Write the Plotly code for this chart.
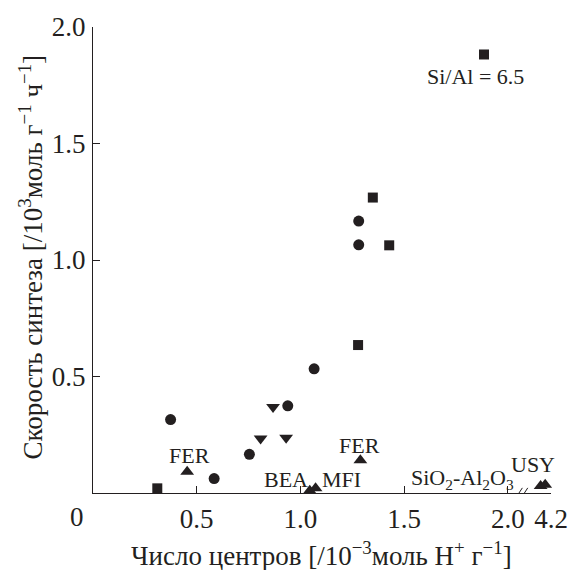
import plotly.graph_objects as go

# ---- data (x: acid sites, 10^-3 mol H+ g^-1; y: synthesis rate, 10^3 mol g^-1 h^-1)
sq_x = [0.31, 1.278, 1.349, 1.428, 1.885]
sq_y = [0.02, 0.635, 1.268, 1.063, 1.882]

ci_x = [0.374, 0.584, 0.754, 0.939, 1.066, 1.281, 1.281]
ci_y = [0.315, 0.062, 0.166, 0.374, 0.533, 1.065, 1.167]

td_x = [0.808, 0.868, 0.931]
td_y = [0.234, 0.369, 0.237]

tu_x = [0.454, 1.045, 1.073, 1.289, 4.15, 4.172]
tu_y = [0.091, 0.010, 0.020, 0.141, 0.030, 0.035]

x_tick_vals = [0.5, 1.0, 1.5, 2.0, 4.2]
x_tick_text = ["0.5", "1.0", "1.5", "2.0", "4.2"]
y_tick_vals = [0.5, 1.0, 1.5, 2.0]
y_tick_text = ["0.5", "1.0", "1.5", "2.0"]

BREAK_LO = 2.0
BREAK_SHIFT = 4.2 - 2.208  # values beyond the axis break are shifted left


def pos(x):
    return x if x <= BREAK_LO else x - BREAK_SHIFT


INK = "#231f20"
FONT = "Liberation Serif, Times New Roman, Times, serif"
BIG = 27

fig = go.Figure()


def add(xs, ys, symbol, size):
    fig.add_trace(go.Scatter(
        x=[pos(v) for v in xs], y=ys, mode="markers",
        marker=dict(symbol=symbol, size=size, color=INK, line=dict(width=0)),
        cliponaxis=False, showlegend=False, hoverinfo="skip"))


add(sq_x, sq_y, "square", 10)
add(ci_x, ci_y, "circle", 11)
add(td_x, td_y, "triangle-down", 12)
add(tu_x, tu_y, "triangle-up", 12)

ann_font = dict(family=FONT, size=22, color=INK)
labels = [
    ("Si/Al = 6.5", 1.843, 1.786),
    ("FER", 0.465, 0.162),
    ("FER", 1.285, 0.205),
    ("BEA", 0.93, 0.06),
    ("MFI", 1.198, 0.06),
    ("SiO<sub>2</sub>-Al<sub>2</sub>O<sub>3</sub>", 1.781, 0.06),
    ("USY", 2.12, 0.124),
]
for t, x, y in labels:
    fig.add_annotation(text=t, x=x, y=y, xref="x", yref="y", showarrow=False,
                       font=ann_font, xanchor="center", yanchor="middle")

# origin label
fig.add_annotation(text="0", x=-0.036, y=-0.051, xref="paper", yref="paper", showarrow=False,
                   font=dict(family=FONT, size=BIG, color=INK),
                   xanchor="center", yanchor="middle")

# axis titles
fig.add_annotation(text="Число центров [/10<sup>−3</sup>моль H<sup>+</sup> г<sup>−1</sup>]",
                   x=0.498, y=-0.13, xref="paper", yref="paper", showarrow=False,
                   font=dict(family=FONT, size=BIG, color=INK),
                   xanchor="center", yanchor="middle")
fig.add_annotation(text="Скорость синтеза [/10<sup>3</sup>моль г<sup>−1</sup> ч<sup>−1</sup>]",
                   x=-0.136, y=0.507, xref="paper", yref="paper", showarrow=False,
                   textangle=-90,
                   font=dict(family=FONT, size=BIG, color=INK),
                   xanchor="center", yanchor="middle")

# axis break marks
fig.add_shape(type="line", xref="x", yref="y", x0=2.055, x1=2.083, y0=0, y1=0,
              line=dict(color="white", width=4))
for x0 in (2.036, 2.062):
    fig.add_shape(type="line", xref="x", yref="y", x0=x0, x1=x0 + 0.034,
                  y0=-0.024, y1=0.022, line=dict(color=INK, width=1))

fig.update_xaxes(range=[0, 2.208], tickmode="array",
                 tickvals=[pos(v) for v in x_tick_vals], ticktext=x_tick_text,
                 ticks="inside", ticklen=7, tickwidth=1, tickcolor=INK,
                 showline=True, linecolor=INK, linewidth=1,
                 showgrid=False, zeroline=False, ticklabelstandoff=2,
                 tickfont=dict(family=FONT, size=BIG, color=INK))
fig.update_yaxes(range=[0, 2.0], tickmode="array",
                 tickvals=y_tick_vals, ticktext=y_tick_text,
                 ticks="inside", ticklen=7, tickwidth=1, tickcolor=INK,
                 showline=True, linecolor=INK, linewidth=1,
                 showgrid=False, zeroline=False, ticklabelstandoff=1,
                 tickfont=dict(family=FONT, size=BIG, color=INK))

fig.update_layout(width=580, height=570,
                  margin=dict(l=93, r=19, t=25, b=77),
                  plot_bgcolor="white", paper_bgcolor="white")

fig.write_html("out.html")
